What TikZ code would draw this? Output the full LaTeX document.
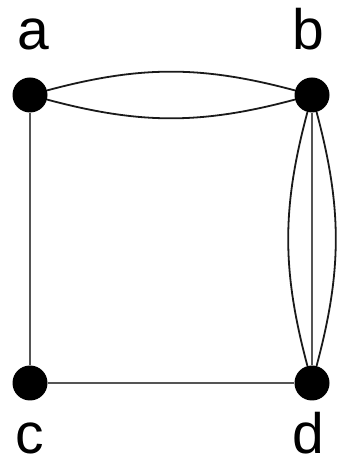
\documentclass[tikz,border=0pt]{standalone}
\usepackage{fontspec}
\setsansfont{Liberation Sans}
\usepackage{tikz}
\usetikzlibrary{positioning}
\definecolor{gEdge}{HTML}{1A1A1A}
\definecolor{gLine}{HTML}{555555}

\begin{document}
\begin{tikzpicture}[x=1pt, y=1pt,
    vertex/.style={circle, fill=black, inner sep=0pt, minimum size=35pt},
    lbl/.style={anchor=base, inner sep=0pt, font=\sffamily\fontsize{57}{60}\selectfont},
    multi/.style={draw=gEdge, line width=1.8pt},
    plain/.style={draw=gLine, line width=2.4pt}]
  \useasboundingbox (0,0) rectangle (339,465);
  \node[vertex] (a) at (30,370) {};
  \node[vertex] (b) at (312,370) {};
  \node[vertex] (c) at (30,82) {};
  \node[vertex] (d) at (312,82) {};
  \node[lbl] (la) at (33,415) {a};
  \node[lbl] (lb) at (308,415) {b};
  \node[lbl] (lc) at (30,11) {c};
  \node[lbl] (ld) at (308,11) {d};
  % a--b double
  \draw[multi] (a) to[bend left=15] (b);
  \draw[multi] (a) to[bend right=15] (b);
  % b--d triple
  \draw[multi] (b) to[bend left=15] (d);
  \draw[multi] (b) to[bend right=15] (d);
  \draw[plain] (b) -- (d);
  % the square sides
  \draw[plain] (a) -- (c);
  \draw[plain] (c) -- (d);
\end{tikzpicture}
\end{document}
